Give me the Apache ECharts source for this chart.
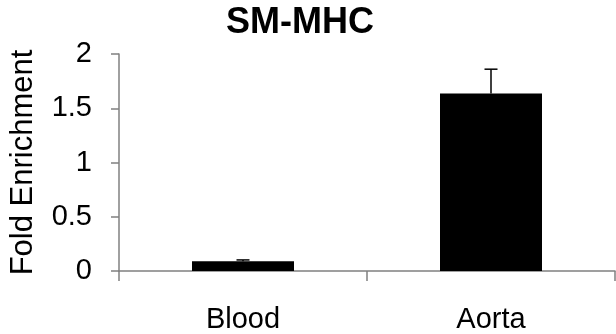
<!DOCTYPE html>
<html>
<head>
<meta charset="utf-8">
<script src="https://cdn.jsdelivr.net/npm/echarts@6/dist/echarts.min.js"></script>
<style>
html,body{margin:0;padding:0;background:#fff;}
#chart{width:616px;height:334px;}
</style>
</head>
<body>
<div id="chart"></div>
<script>
var titleText = 'SM-MHC';
var yAxisName = 'Fold Enrichment';
var categories = ['Blood', 'Aorta'];
var values = [0.09, 1.635];
var errors = [0.012, 0.225];
var yTicks = [0, 0.5, 1, 1.5, 2];

var FONT = '"Liberation Sans", Arial, sans-serif';
var chart = echarts.init(document.getElementById('chart'), null, {renderer: 'canvas'});

var errData = categories.map(function (c, i) { return [i, values[i], values[i] + errors[i]]; });

chart.setOption({
  animation: false,
  backgroundColor: '#ffffff',
  title: {
    text: titleText,
    left: 221,
    top: 0,
    textStyle: {fontFamily: FONT, fontSize: 36, fontWeight: 'bold', color: '#000'}
  },
  grid: {left: 114, right: 1, top: 54, bottom: 56, containLabel: false},
  xAxis: {
    type: 'category',
    data: categories,
    boundaryGap: true,
    axisLine: {lineStyle: {color: '#808080', width: 1.5}},
    axisTick: {show: true, inside: false, length: 10, alignWithLabel: false, lineStyle: {color: '#808080', width: 1.5}},
    axisLabel: {fontFamily: FONT, fontSize: 29, color: '#000', margin: 34}
  },
  yAxis: {
    type: 'value',
    min: yTicks[0],
    max: yTicks[yTicks.length - 1],
    interval: 0.5,
    name: yAxisName,
    nameLocation: 'middle',
    nameGap: 80,
    nameTextStyle: {fontFamily: FONT, fontSize: 31, color: '#000'},
    splitLine: {show: false},
    axisLine: {show: true, lineStyle: {color: '#808080', width: 1.5}},
    axisTick: {show: true, inside: false, length: 8, lineStyle: {color: '#808080', width: 1.5}},
    axisLabel: {fontFamily: FONT, fontSize: 29, color: '#000', margin: 27}
  },
  series: [
    {
      type: 'bar',
      data: values,
      barWidth: 102,
      itemStyle: {color: '#000000'},
      z: 2
    },
    {
      type: 'custom',
      data: errData,
      z: 3,
      renderItem: function (params, api) {
        var x = api.value(0);
        var base = api.coord([x, api.value(1)]);
        var top = api.coord([x, api.value(2)]);
        var hw = 6.5;
        var st = {stroke: '#000', lineWidth: 1.5};
        return {
          type: 'group',
          children: [
            {type: 'line', shape: {x1: base[0], y1: base[1], x2: top[0], y2: top[1]}, style: st},
            {type: 'line', shape: {x1: top[0] - hw, y1: top[1], x2: top[0] + hw, y2: top[1]}, style: st}
          ]
        };
      }
    }
  ]
});
</script>
</body>
</html>
